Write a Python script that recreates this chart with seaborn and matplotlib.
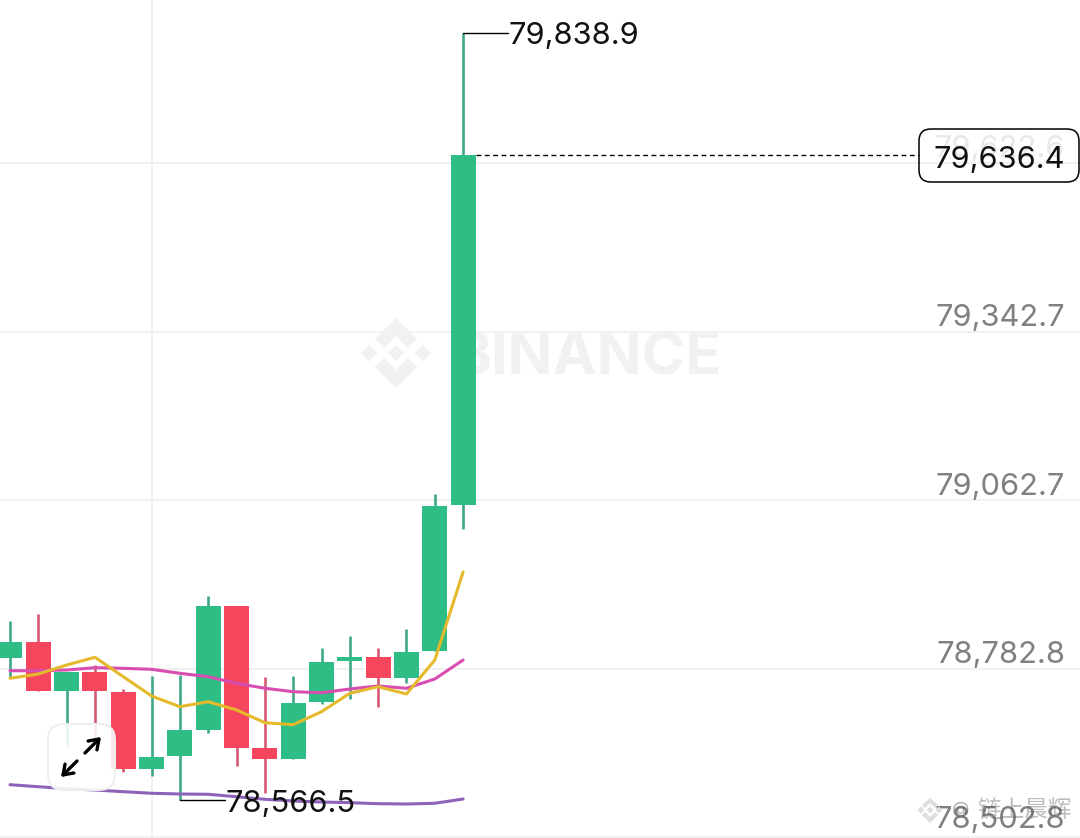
import numpy as np
import pandas as pd
import matplotlib
matplotlib.use("Agg")
import matplotlib.pyplot as plt
from matplotlib.patches import FancyBboxPatch, FancyArrowPatch, Polygon
import seaborn as sns

opens = [78801.9, 78827.5, 78746.2, 78778.7, 78745.5, 78617.3, 78639.3, 78682.5, 78887.7,
         78651.6, 78634.4, 78727.9, 78795.9, 78802.6, 78767.7, 78812.5, 79055.2]
closes = [78827.5, 78746.2, 78778.7, 78746.2, 78617.3, 78637.7, 78681.5, 78887.7, 78652.6,
          78634.4, 78727.3, 78794.8, 78802.6, 78767.7, 78811.4, 79053.6, 79636.4]
highs = [78863.3, 78873.9, 78778.7, 78789.8, 78750.0, 78771.6, 78773.2, 78904.3, 78887.7,
         78770.4, 78771.6, 78817.5, 78837.9, 78817.5, 78849.0, 79073.5, 79838.9]
lows = [78768.2, 78746.2, 78654.3, 78668.7, 78612.8, 78606.2, 78566.5, 78677.0, 78622.7,
        78577.0, 78634.4, 78725.1, 78732.9, 78720.1, 78760.4, 78812.5, 79015.4]
ma_fast = [78767.7, 78774.9, 78789.8, 78802.6, 78770.4, 78738.4, 78720.6, 78728.9, 78715.2,
           78694.1, 78690.8, 78712.3, 78742.9, 78753.8, 78741.7, 78798.1, 78944.1]
ma_mid = [78780.3, 78780.3, 78781.5, 78785.3, 78784.3, 78782.7, 78776.0, 78770.4, 78759.4,
          78751.2, 78745.5, 78743.8, 78750.0, 78755.0, 78751.2, 78766.6, 78798.1]
ma_slow = [78591.2, 78587.9, 78584.6, 78582.4, 78579.6, 78577.0, 78575.8, 78575.3, 78571.3,
           78567.0, 78564.2, 78562.5, 78561.4, 78559.7, 78559.2, 78560.4, 78567.5]
grid_prices = [79622.6, 79342.7, 79062.7, 78782.8, 78502.8]
grid_labels = ["79,622.6", "79,342.7", "79,062.7", "78,782.8", "78,502.8"]
last_price = 79636.4
peak_price = 79838.9
trough_price = 78566.5
peak_idx = 16
trough_idx = 6

GREEN, RED = "#2EBD85", "#F6465D"
W_GREEN, W_RED = "#3FA88A", "#D65A70"
W, H = 1080, 838
FONT = "Inter"
TS = 22.2

sns.set_theme(style="white")
plt.rcParams["font.family"] = [FONT, "DejaVu Sans"]

df = pd.DataFrame({"i": np.arange(len(opens)), "open": opens, "close": closes, "high": highs,
                   "low": lows, "fast": ma_fast, "mid": ma_mid, "slow": ma_slow})
df["up"] = df["close"] >= df["open"]

fig = plt.figure(figsize=(W / 100, H / 100), dpi=100, facecolor="white")
ax = fig.add_axes([0, 0, 1, 1])
XLIM = (-10 / 28.32, (W - 10) / 28.32)
YLIM = (78502.8, 79893.0)
ax.set_xlim(XLIM)
ax.set_ylim(YLIM)
ax.axis("off")

def fx(px):
    return px / W
def fy(py):
    return 1 - py / H
def diamond(cx, cy, r):
    return [(fx(cx - r), fy(cy)), (fx(cx), fy(cy - r)), (fx(cx + r), fy(cy)), (fx(cx), fy(cy + r))]

# grid
for p in grid_prices:
    ax.axhline(p + (1.5 if p == grid_prices[-1] else 0), color="#EEEEEE", lw=1.1, zorder=1)
ax.axvline(5, color="#EEEEEE", lw=1.1, zorder=1)

# watermark
wm = "#F1F1F1"
for cx, cy, r in [(396, 353, 8), (369, 353, 8), (423, 353, 8)]:
    ax.add_patch(Polygon(diamond(cx, cy, r), transform=ax.transAxes, fc=wm, ec="none", zorder=1.5))
for pts in ([(396, 318), (417, 339), (408, 348), (396, 336), (384, 348), (375, 339)],
            [(396, 388), (417, 367), (408, 358), (396, 370), (384, 358), (375, 367)]):
    ax.add_patch(Polygon([(fx(a), fy(b)) for a, b in pts], transform=ax.transAxes, fc=wm, ec="none", zorder=1.5))
ax.text(fx(452), fy(352.5), "BINANCE", transform=ax.transAxes, fontsize=42.5, fontweight="bold",
        color=wm, ha="left", va="center_baseline", zorder=1.5)

# candles
for r in df.itertuples():
    ax.vlines(r.i, r.low, r.high, color=W_GREEN if r.up else W_RED, lw=1.9, zorder=2)
ax.bar(df["i"], (df["close"] - df["open"]).abs(), bottom=df[["open", "close"]].min(axis=1), width=0.88,
       color=[GREEN if u else RED for u in df["up"]], linewidth=0, zorder=3)

# moving averages
for col, c in [("slow", "#8E62B8"), ("mid", "#D84DB0"), ("fast", "#E5B92B")]:
    sns.lineplot(data=df, x="i", y=col, ax=ax, color=c, lw=2.2, zorder=4, legend=False, errorbar=None)
ax.axis("off")
ax.set_xlim(XLIM)
ax.set_ylim(YLIM)

# axis labels
for p, lab in zip(grid_prices, grid_labels):
    ax.annotate(lab, xy=(fx(1065), p), xycoords=("axes fraction", "data"),
                xytext=(0, 15 if p == grid_prices[-1] else 12.2),
                textcoords="offset points", ha="right", va="center_baseline", fontsize=TS,
                color="#808080" if p != grid_prices[0] else "#E8E8E8", zorder=8)

# peak / trough labels
x_off = 45 / 28.32
ax.plot([peak_idx, peak_idx + x_off], [peak_price, peak_price], color="black", lw=1.0, zorder=6)
ax.annotate("79,838.9", xy=(peak_idx + x_off, peak_price), xytext=(0.5, -0.5), textcoords="offset points",
            ha="left", va="center_baseline", fontsize=TS, color="#111111", zorder=7)
ax.plot([trough_idx, trough_idx + x_off], [trough_price, trough_price], color="black", lw=1.0, zorder=6)
ax.annotate("78,566.5", xy=(trough_idx + x_off, trough_price), xytext=(0.5, -1), textcoords="offset points",
            ha="left", va="center_baseline", fontsize=TS, color="#111111", zorder=7)

# last price
ax.plot([16.45, (919 - 10) / 28.32], [last_price, last_price], color="black", lw=1.0, ls=(0, (3.5, 2.5)), zorder=6)
pill = FancyBboxPatch((919 + 12, H - 182 + 12), 160 - 24, 53 - 24, boxstyle="round,pad=12,rounding_size=12",
                      transform=None, fc=(1, 1, 1, 0.0), ec="black", lw=1.1, zorder=9)
fig.add_artist(pill)
ax.text(fx(999.5), fy(157), "79,636.4", transform=ax.transAxes, ha="center", va="center_baseline",
        fontsize=TS, color="#111111", zorder=10)

# expand button
btn = FancyBboxPatch((48 + 16, H - 790 + 16), 67 - 32, 66 - 32, boxstyle="round,pad=16,rounding_size=16",
                     transform=None, fc=(1, 1, 1, 0.88), ec="#EEEEEE", lw=1.4, zorder=11)
fig.add_artist(btn)
for a, b in [((77, 761), (61, 777)), ((85, 753), (101, 737))]:
    fig.add_artist(FancyArrowPatch((a[0], H - a[1]), (b[0], H - b[1]), transform=None,
                   arrowstyle="->,head_length=6.5,head_width=4.5", color="black", lw=2.4, mutation_scale=1,
                   shrinkA=0, shrinkB=0, zorder=12))

# bottom-right author mark
ax.text(fx(977), fy(811), "链上晨辉", transform=ax.transAxes, ha="left", va="center", fontsize=17,
        color="#555555", alpha=0.4, family=["Noto Sans CJK SC", "DejaVu Sans"], zorder=13)
ax.text(fx(961), fy(809), "@", transform=ax.transAxes, ha="center", va="center", fontsize=13,
        color="#555555", alpha=0.45, zorder=13)
mk = "#DEDEDE"
for cx, cy, r in [(930, 810, 3.5), (921, 810, 3.5), (939, 810, 3.5)]:
    ax.add_patch(Polygon(diamond(cx, cy, r), transform=ax.transAxes, fc=mk, ec="none", zorder=13))
for pts in ([(930, 798), (938, 805), (935, 808), (930, 803), (925, 808), (922, 805)],
            [(930, 823), (938, 815), (935, 812), (930, 817), (925, 812), (922, 815)]):
    ax.add_patch(Polygon([(fx(a), fy(b)) for a, b in pts], transform=ax.transAxes, fc=mk, ec="none", zorder=13))

fig.savefig("out.png", dpi=100, facecolor="white")
